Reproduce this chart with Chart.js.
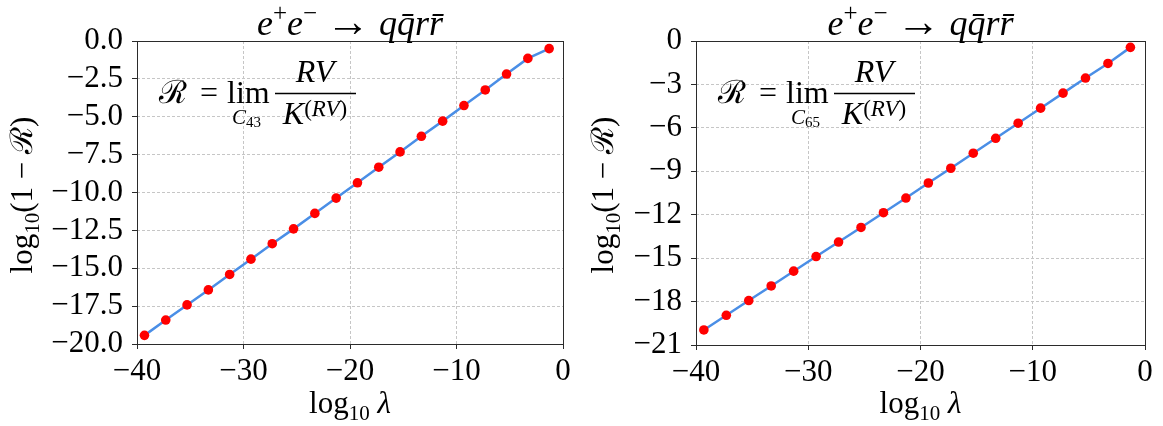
<!DOCTYPE html>
<html>
<head>
<meta charset="utf-8">
<script src="https://cdn.jsdelivr.net/npm/chart.js"></script>
<style>
  html, body { margin: 0; padding: 0; background: #fff; }
  #wrap { position: relative; width: 1163px; height: 426px; overflow: hidden; }
  #wrap canvas { position: absolute; top: 0; }
  #left { left: 0; }
  #right { left: 580px; }
  #labels { position: absolute; left: 0; top: 0; pointer-events: none; font-family: 'Liberation Serif', serif; }
</style>
</head>
<body>
<div id="wrap">
  <canvas id="left" width="580" height="426"></canvas>
  <canvas id="right" width="583" height="426"></canvas>
  <svg id="labels" width="1163" height="426" xmlns="http://www.w3.org/2000/svg"></svg>
</div>
<script>
// log10(lambda) sample points, shared by both panels
const logLambda = [-39.3, -37.3, -35.3, -33.3, -31.3, -29.3, -27.3, -25.3, -23.3, -21.3,
                   -19.3, -17.3, -15.3, -13.3, -11.3, -9.3, -7.3, -5.3, -3.3, -1.3];

// log10(1 - R) for the C43 limit
const logResidueC43 = [-19.43, -18.42, -17.42, -16.43, -15.41, -14.40, -13.38, -12.40, -11.38, -10.37,
                       -9.36, -8.33, -7.32, -6.29, -5.29, -4.26, -3.23, -2.18, -1.15, -0.50];

// log10(1 - R) for the C65 limit
const logResidueC65 = [-19.96, -18.95, -17.93, -16.92, -15.90, -14.89, -13.89, -12.88, -11.86, -10.85,
                       -9.81, -8.79, -7.75, -6.72, -5.68, -4.64, -3.60, -2.56, -1.55, -0.44];

const xTickValues = [-40, -30, -20, -10, 0];
const yTickValuesC43 = [-20, -17.5, -15, -12.5, -10, -7.5, -5, -2.5, 0];
const yTickValuesC65 = [-21, -18, -15, -12, -9, -6, -3, 0];

const MINUS = '\u2212';
const fmt = (v, digits) => (v < 0 ? MINUS : '') + Math.abs(v).toFixed(digits);

const tickFont = { family: "'Liberation Serif', serif", size: 31 };

/* box around the plotting area (all four sides) */
const framePlugin = {
    id: 'frame',
    beforeDatasetsDraw(chart) {
        const { ctx, chartArea: a } = chart;
        ctx.save();
        ctx.strokeStyle = '#2b2b2b';
        ctx.lineWidth = 1;
        ctx.strokeRect(a.left + 0.5, a.top + 0.5, a.right - a.left, a.bottom - a.top);
        ctx.restore();
    }
};

function makePanel(canvasId, ys, yTicks, yDigits, box) {
    const gridOpts = {
        color: '#c6c6c6',
        lineWidth: 1,
        drawTicks: true,
        tickLength: 5,
        tickColor: '#2b2b2b',
        tickWidth: 1,
        tickBorderDash: []
    };
    return new Chart(document.getElementById(canvasId), {
        type: 'scatter',
        data: {
            datasets: [{
                data: logLambda.map((x, i) => ({ x, y: ys[i] })),
                showLine: true,
                tension: 0,
                borderColor: '#4a8ee6',
                borderWidth: 2.5,
                pointBackgroundColor: '#ff0000',
                pointBorderWidth: 0,
                pointRadius: 4.8,
                clip: false
            }]
        },
        options: {
            responsive: false,
            animation: false,
            events: [],
            layout: { padding: { top: box.top, right: box.right, bottom: 0, left: 0 } },
            plugins: { legend: { display: false }, tooltip: { enabled: false } },
            scales: {
                x: {
                    type: 'linear',
                    min: -40,
                    max: 0,
                    afterBuildTicks: s => { s.ticks = xTickValues.map(v => ({ value: v })); },
                    afterFit: s => { s.height = box.xHeight; },
                    ticks: {
                        font: tickFont,
                        color: '#000',
                        padding: 4,
                        maxRotation: 0,
                        autoSkip: false,
                        callback: v => fmt(v, 0)
                    },
                    grid: gridOpts,
                    border: { display: false, dash: [3, 2] }
                },
                y: {
                    type: 'linear',
                    min: yTicks[0],
                    max: yTicks[yTicks.length - 1],
                    afterBuildTicks: s => { s.ticks = yTicks.map(v => ({ value: v })); },
                    afterFit: s => { s.width = box.yWidth; },
                    ticks: {
                        font: tickFont,
                        color: '#000',
                        padding: 9,
                        autoSkip: false,
                        callback: v => fmt(v, yDigits)
                    },
                    grid: gridOpts,
                    border: { display: false, dash: [3, 2] }
                }
            }
        },
        plugins: [framePlugin]
    });
}

makePanel('left', logResidueC43, yTickValuesC43, 1, { top: 41, right: 17, xHeight: 82, yWidth: 137 });
makePanel('right', logResidueC65, yTickValuesC65, 0, { top: 41, right: 18, xHeight: 81, yWidth: 116 });

/* titles, axis labels and the ratio formula, as svg text on top of the canvases */
function panelText(L, cx, yLabelX, limSub) {
    return `
    <text x="${cx}" y="35" text-anchor="middle" font-size="36" font-style="italic">e<tspan dy="-14" font-size="25" font-style="normal">+</tspan><tspan dy="14">e</tspan><tspan dy="-14" font-size="25" font-style="normal">${MINUS}</tspan><tspan dy="14" font-style="normal">  </tspan><tspan dy="1" font-size="44" font-style="normal">\u2192</tspan><tspan dy="-1" font-style="normal">  </tspan>qq\u0304rr\u0304</text>
    <text x="${cx}" y="413" text-anchor="middle" font-size="31">log<tspan dy="7" font-size="21">10</tspan><tspan dy="-7" font-style="italic"> \u03bb</tspan></text>
    <text transform="translate(${yLabelX},195) rotate(-90)" text-anchor="middle" font-size="31">log<tspan dy="7" font-size="21">10</tspan><tspan dy="-7">(1 ${MINUS} </tspan><tspan font-family="'DejaVu Serif', serif">\u211b</tspan>)</text>
    <text x="${L + 22}" y="103" font-size="32" font-family="'DejaVu Serif', serif">\u211b</text>
    <text x="${L + 63}" y="103" font-size="32">=</text>
    <text x="${L + 90}" y="103" font-size="32">lim</text>
    <text x="${L + 95}" y="124" font-size="21" font-style="italic">C<tspan dy="3" font-size="15" font-style="normal">${limSub}</tspan></text>
    <line x1="${L + 138}" x2="${L + 219}" y1="93.5" y2="93.5" stroke="#000" stroke-width="1.3"/>
    <text x="${L + 178}" y="82" text-anchor="middle" font-size="32" font-style="italic">RV</text>
    <text x="${L + 178}" y="124" text-anchor="middle" font-size="32" font-style="italic">K<tspan dy="-8" font-size="23" font-style="normal">(</tspan><tspan font-size="23">RV</tspan><tspan font-size="23" font-style="normal">)</tspan></text>`;
}

document.getElementById('labels').innerHTML =
    panelText(137, 350, 32, '43') + panelText(696, 920.5, 613, '65');
</script>
</body>
</html>
